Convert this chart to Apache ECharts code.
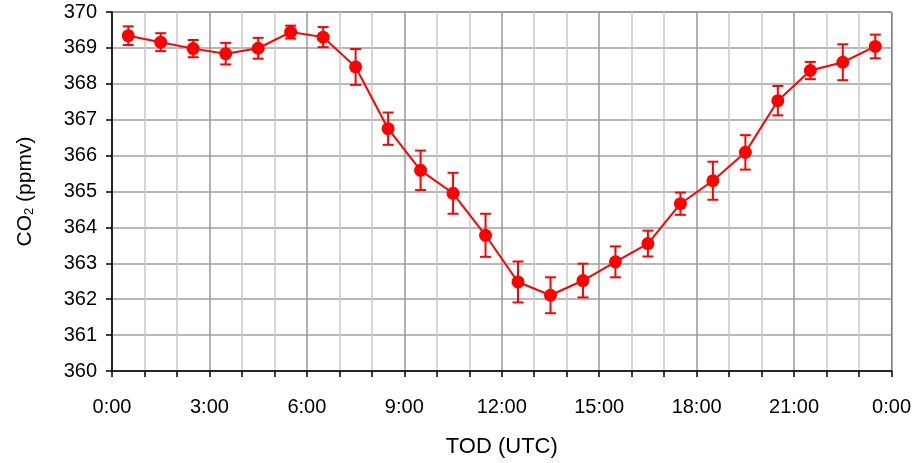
<!DOCTYPE html>
<html>
<head>
<meta charset="utf-8">
<style>
  html, body { margin: 0; padding: 0; background: #fff; }
  #chart { width: 914px; height: 463px; }
</style>
<script src="https://cdn.jsdelivr.net/npm/echarts@6/dist/echarts.min.js"></script>
</head>
<body>
<div id="chart"></div>
<script>
  // hour of day (UTC), mean CO2 and error bar half-width
  var hours = [0.5, 1.5, 2.5, 3.5, 4.5, 5.5, 6.5, 7.5, 8.5, 9.5, 10.5, 11.5,
               12.5, 13.5, 14.5, 15.5, 16.5, 17.5, 18.5, 19.5, 20.5, 21.5, 22.5, 23.5];
  var co2 = [369.34, 369.16, 368.98, 368.84, 368.99, 369.44, 369.30, 368.47, 366.75, 365.59, 364.95, 363.78,
             362.48, 362.11, 362.52, 363.04, 363.55, 364.66, 365.30, 366.09, 367.53, 368.37, 368.60, 369.04];
  var err = [0.26, 0.25, 0.24, 0.30, 0.29, 0.18, 0.28, 0.50, 0.45, 0.55, 0.57, 0.60,
             0.57, 0.50, 0.47, 0.43, 0.36, 0.31, 0.53, 0.48, 0.41, 0.24, 0.50, 0.33];

  var font = 'Arial, "Liberation Sans", sans-serif';
  var red = '#ff0000';

  var lineData = hours.map(function (h, i) { return [h, co2[i]]; });
  var barData = hours.map(function (h, i) { return [h, co2[i] - err[i], co2[i] + err[i]]; });

  var myChart = echarts.init(document.getElementById('chart'));
  myChart.setOption({
    animation: false,
    grid: {
      left: 112, right: 22, top: 12, bottom: 90,
      show: true,
      borderColor: '#222',
      borderWidth: 1
    },
    xAxis: {
      type: 'value',
      min: 0,
      max: 24,
      interval: 1,
      name: 'TOD (UTC)',
      nameLocation: 'middle',
      nameGap: 65,
      nameTextStyle: { fontFamily: font, fontSize: 22, color: '#000' },
      axisLine: { lineStyle: { color: '#000', width: 1.5 } },
      axisTick: { length: 6, lineStyle: { color: '#000', width: 1.5 } },
      axisLabel: {
        margin: 26,
        fontFamily: font,
        fontSize: 20,
        color: '#000',
        showMaxLabel: true,
        formatter: function (v) {
          return v % 3 === 0 ? (v % 24) + ':00' : '';
        }
      },
      splitLine: {
        show: true,
        lineStyle: { color: ['#999', '#c8c8c8', '#c8c8c8'], width: 1.5 }
      }
    },
    yAxis: {
      type: 'value',
      min: 360,
      max: 370,
      interval: 1,
      name: '{a|CO}{s|2}{a| (ppmv)}',
      nameLocation: 'middle',
      nameRotate: 90,
      nameGap: 76,
      nameTextStyle: {
        color: '#000',
        rich: {
          a: { fontFamily: font, fontSize: 21, color: '#000' },
          s: { fontFamily: font, fontSize: 13, color: '#000', padding: [8, 0, 0, 0] }
        }
      },
      axisLine: { show: true, lineStyle: { color: '#000', width: 1.5 } },
      axisTick: { show: true, length: 6, lineStyle: { color: '#000', width: 1.5 } },
      axisLabel: { margin: 15, fontFamily: font, fontSize: 20, color: '#000' },
      splitLine: { show: true, lineStyle: { color: '#a0a0a0', width: 1.5 } }
    },
    series: [{
      type: 'custom',
      data: barData,
      z: 3,
      renderItem: function (params, api) {
        var x = api.coord([api.value(0), api.value(1)])[0];
        var lo = api.coord([api.value(0), api.value(1)])[1];
        var hi = api.coord([api.value(0), api.value(2)])[1];
        var cap = 5.5;
        var style = { stroke: red, lineWidth: 2 };
        return {
          type: 'group',
          children: [
            { type: 'line', shape: { x1: x, y1: lo, x2: x, y2: hi }, style: style },
            { type: 'line', shape: { x1: x - cap, y1: lo, x2: x + cap, y2: lo }, style: style },
            { type: 'line', shape: { x1: x - cap, y1: hi, x2: x + cap, y2: hi }, style: style }
          ]
        };
      }
    }, {
      type: 'line',
      data: lineData,
      z: 4,
      symbol: 'circle',
      symbolSize: 13,
      itemStyle: { color: red },
      lineStyle: { color: red, width: 2 }
    }]
  });
</script>
</body>
</html>
